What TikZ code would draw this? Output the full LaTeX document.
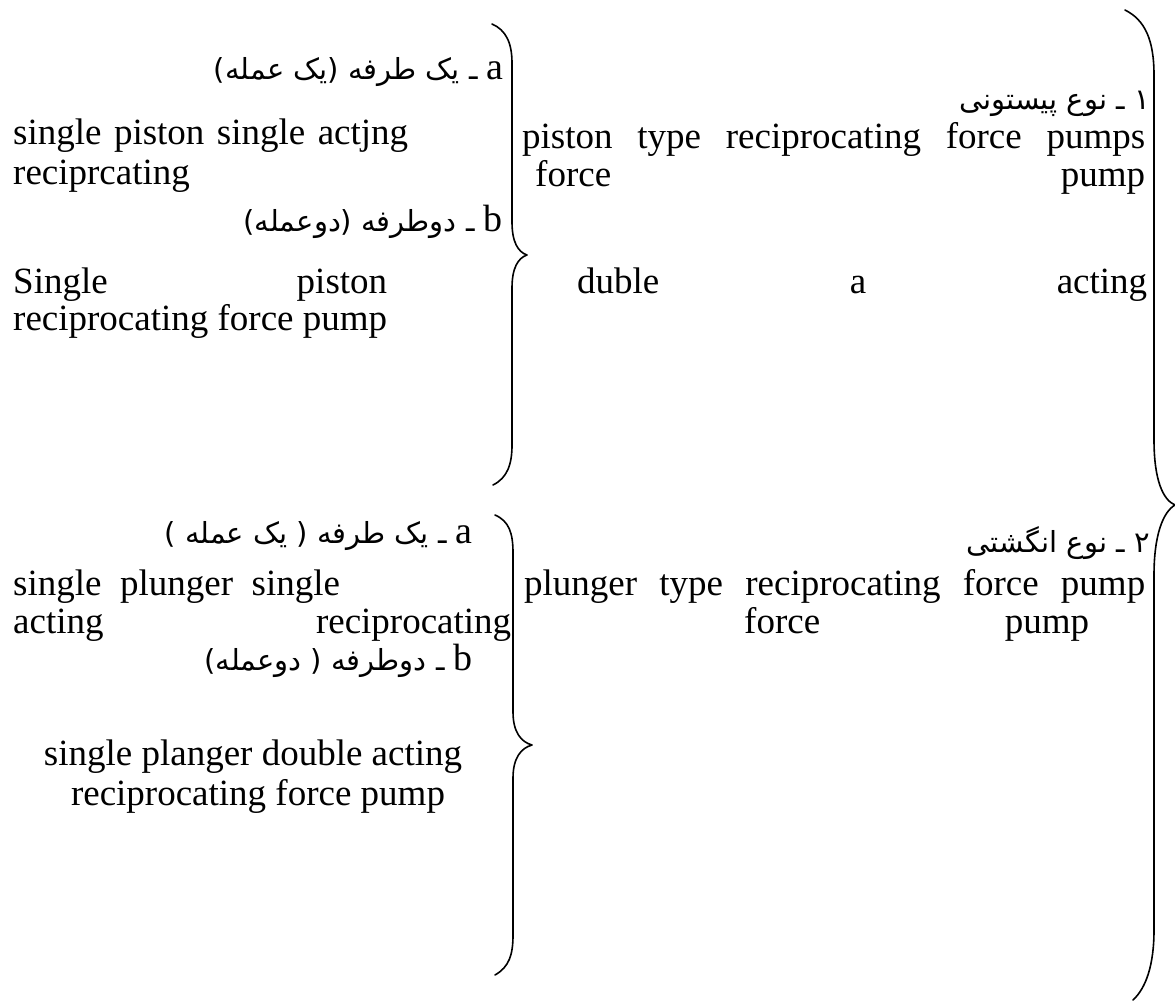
\documentclass[tikz,border=0pt]{standalone}
\usepackage{fontspec}
\setmainfont{Liberation Serif}
\newfontfamily\fa[Script=Arabic]{DejaVu Sans}
\newfontfamily\lat{Liberation Serif}
\TeXXeTstate=1
\begin{document}
\begin{tikzpicture}[x=1pt,y=-1pt,
  txt/.style={inner sep=0pt, text height=24pt, text depth=7pt, font=\fontsize{37}{37}\selectfont},
  fatxt/.style={inner sep=0pt, text height=26pt, text depth=8pt, font=\fontsize{29}{29}\fa},
  brace/.style={line width=1.6pt, line cap=round, line join=round}]
\useasboundingbox (0,0) rectangle (1175,1003);
% ---------- section 1, left ----------
\node[fatxt, anchor=base east] (a1) at (504,80) {\beginR{\lat\fontsize{38}{38}\selectfont a} ـ یک طرفه (یک عمله)\endR};
\node[txt, anchor=base west] (l1) at (13,145) {\makebox[395pt][s]{single piston single actjng}};
\node[txt, anchor=base west] (l2) at (13,185) {reciprcating};
\node[fatxt, anchor=base east] (b1) at (503,232) {\beginR{\lat\fontsize{38}{38}\selectfont b} ـ دوطرفه (دوعمله)\endR};
\node[txt, anchor=base west] (l3) at (13,293) {\makebox[374pt][s]{Single piston}};
\node[txt, anchor=base west] (l4) at (13,330) {reciprocating force pump};
% ---------- section 1, right ----------
\node[fatxt, anchor=base east] (h1) at (1150,110) {\beginR ۱ ـ نوع پیستونی\endR};
\node[txt, anchor=base west] (r1) at (522,149) {\makebox[623pt][s]{piston type reciprocating force pumps}};
\node[txt, anchor=base west] (r2) at (535,187) {\makebox[610pt][s]{force pump}};
\node[txt, anchor=base west] (r3) at (577,293) {\makebox[570pt][s]{duble a acting}};
% ---------- section 2, left ----------
\node[fatxt, anchor=base east] (a2) at (473,543) {\beginR{\lat\fontsize{38}{38}\selectfont a} ـ یک طرفه ( یک عمله )\endR};
\node[txt, anchor=base west] (m1) at (13,595) {single\ \ plunger\ \ single};
\node[txt, anchor=base west] (m2) at (13,633) {\makebox[498pt][s]{acting reciprocating}};
\node[fatxt, anchor=base east] (b2) at (473,670) {\beginR{\lat\fontsize{38}{38}\selectfont b} ـ دوطرفه ( دوعمله)\endR};
\node[txt, anchor=base] (m3) at (253,765) {single planger double acting};
\node[txt, anchor=base] (m4) at (258,805) {reciprocating force pump};
% ---------- section 2, right ----------
\node[fatxt, anchor=base east] (h2) at (1150,552) {\beginR ۲ ـ نوع انگشتی\endR};
\node[txt, anchor=base west] (p1) at (524,595) {\makebox[621pt][s]{plunger type reciprocating force pump}};
\node[txt, anchor=base west] (p2) at (744,633) {\makebox[345pt][s]{force pump}};
% ---------- braces ----------
\draw[brace] (492,24) .. controls (506,30) and (512,43) .. (512,63) -- (512,222)
  .. controls (512,242) and (518,252) .. (527,255)
  .. controls (518,258) and (512,268) .. (512,288) -- (512,445)
  .. controls (512,465) and (507,478) .. (493,485);
\draw[brace] (495,515) .. controls (509,521) and (513,533) .. (513,553) -- (513,712)
  .. controls (513,732) and (521,742) .. (532,745)
  .. controls (521,748) and (513,758) .. (513,778) -- (513,935)
  .. controls (513,955) and (509,967) .. (495,975);
\draw[brace] (1125,10) .. controls (1145,20) and (1154,40) .. (1154,75) -- (1154,440)
  .. controls (1154,480) and (1163,500) .. (1175,505)
  .. controls (1163,512) and (1154,535) .. (1154,575) -- (1154,930)
  .. controls (1154,965) and (1146,988) .. (1133,1000);
\end{tikzpicture}
\end{document}
